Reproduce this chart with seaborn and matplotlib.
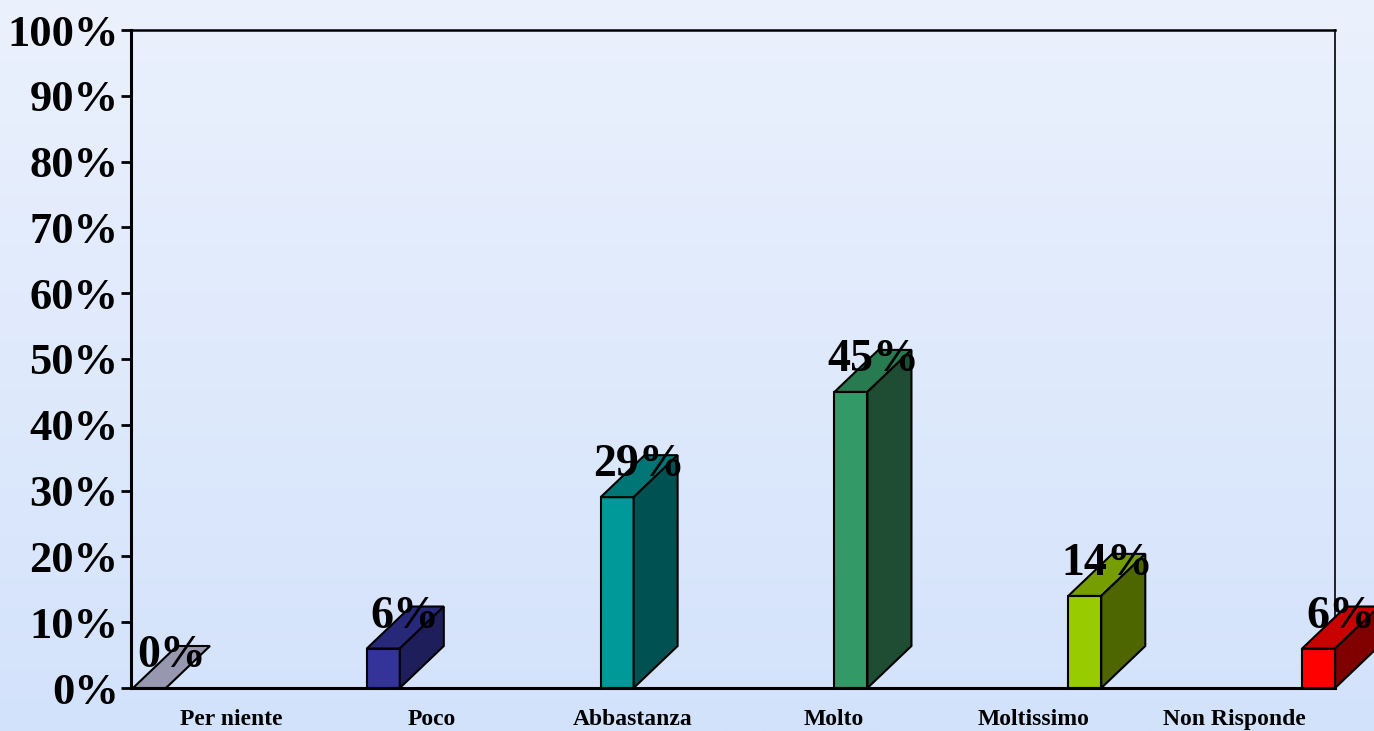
import numpy as np
import matplotlib
matplotlib.use("Agg")
import matplotlib.pyplot as plt
import seaborn as sns
from matplotlib.patches import Polygon
from matplotlib.colors import LinearSegmentedColormap

# ---- data ----
categories = ["Per niente", "Poco", "Abbastanza", "Molto", "Moltissimo", "Non Risponde"]
values = [0, 6, 29, 45, 14, 6]
value_labels = ["0%", "6%", "29%", "45%", "14%", "6%"]
ytick_values = list(range(0, 101, 10))
ytick_labels = [f"{v}%" for v in ytick_values]

# ---- styles ----
front_colors = ["#9999B3", "#333399", "#009999", "#339966", "#99CC00", "#FF0000"]
top_colors = ["#9797AF", "#28287A", "#007575", "#287A50", "#779E00", "#C80000"]
side_colors = ["#6E6E85", "#1E1E5A", "#005252", "#1E4D33", "#4D6600", "#800000"]

sns.set_theme(style="white")
plt.rcParams['font.family'] = ['Liberation Serif', 'DejaVu Serif']

fig = plt.figure(figsize=(13.74, 7.31), dpi=100)

# gradient background
bg = fig.add_axes([0, 0, 1, 1], zorder=-10)
grad = np.linspace(0, 1, 256).reshape(-1, 1)
cmap = LinearSegmentedColormap.from_list("bg", ["#EBF1FD", "#D3E2FB"])
bg.imshow(grad, aspect='auto', cmap=cmap, extent=[0, 1, 0, 1])
bg.axis('off')

W, H = 1374, 731
ax = fig.add_axes([131 / W, (H - 688) / H, (1335 - 131) / W, (688 - 30) / H])
ax.set_facecolor('none')

bar_w = 0.141
sns.barplot(x=categories, y=values, hue=categories, palette=front_colors,
            legend=False, width=bar_w, edgecolor="black", linewidth=1.5,
            saturation=1, ax=ax, zorder=3)

ax.set_xlim(-0.079, 5.070)
ax.set_ylim(0, 100)

dx = 44 / 233.8
dy = 42 / 6.58

patches = sorted([p for p in ax.patches], key=lambda p: p.get_x())
for i, p in enumerate(patches):
    x0 = p.get_x()
    x1 = x0 + p.get_width()
    h = p.get_height()
    top = Polygon([(x0, h), (x1, h), (x1 + dx, h + dy), (x0 + dx, h + dy)],
                  closed=True, facecolor=top_colors[i], edgecolor="black",
                  linewidth=1.5, zorder=3, clip_on=False)
    ax.add_patch(top)
    if h > 0:
        side = Polygon([(x1, 0), (x1 + dx, dy), (x1 + dx, h + dy), (x1, h)],
                       closed=True, facecolor=side_colors[i], edgecolor="black",
                       linewidth=1.5, zorder=3, clip_on=False)
        ax.add_patch(side)
    cx = x0 + p.get_width() / 2
    ax.text(cx + dx / 2, h + dy / 2, value_labels[i], ha='center', va='baseline',
            fontsize=33, fontweight='bold', color='black', zorder=6, clip_on=False)

lo, hi = ax.get_xlim()
xt = [lo + (i + 0.5) / len(categories) * (hi - lo) for i in range(len(categories))]
ax.set_xticks(xt, categories, fontsize=17, fontweight='bold')
ax.set_yticks(ytick_values, ytick_labels, fontsize=32, fontweight='bold')
ax.set_xlabel("")
ax.set_ylabel("")
ax.tick_params(axis='x', length=0, pad=15, colors='black')
ax.tick_params(axis='y', length=7, width=2, pad=2, colors='black', left=True)

for s in ['left', 'bottom']:
    ax.spines[s].set_linewidth(2.2)
    ax.spines[s].set_color('black')
    ax.spines[s].set_zorder(4)
ax.spines['top'].set_linewidth(1.8)
ax.spines['right'].set_linewidth(1.2)
ax.spines['top'].set_color('black')
ax.spines['right'].set_color('black')

fig.savefig("out.png", dpi=100)
